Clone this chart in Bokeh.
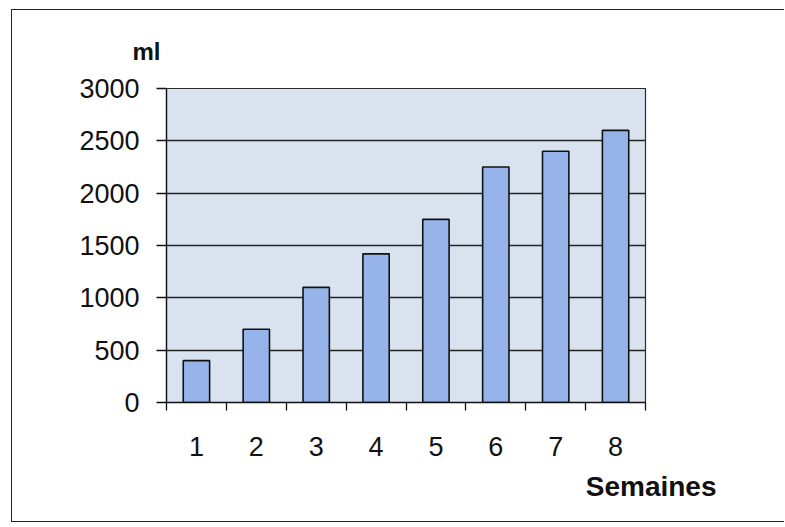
from bokeh.plotting import figure
from bokeh.models import Range1d, FixedTicker, Title
from bokeh.embed import file_html
from bokeh.resources import INLINE

# Weekly volume (ml)
weeks = [1, 2, 3, 4, 5, 6, 7, 8]
volumes_ml = [400, 700, 1100, 1420, 1750, 2250, 2400, 2600]
y_ticks = [0, 500, 1000, 1500, 2000, 2500, 3000]
week_boundaries = [0.5, 1.5, 2.5, 3.5, 4.5, 5.5, 6.5, 7.5, 8.5]

FONT = "Liberation Sans"

p = figure(
    width=773, height=513,
    x_range=Range1d(0.5, 8.5), y_range=Range1d(0, 3000),
    output_backend="svg", toolbar_location=None,
    min_border_left=154, min_border_right=140,
    min_border_top=78, min_border_bottom=121,
)
# thin frame around the whole chart (open on the right)
p.styles = {
    "margin-left": "11px", "margin-top": "9px",
    "border-left": "1.5px solid #222222",
    "border-top": "1.5px solid #222222",
    "border-bottom": "1.5px solid #222222",
}
p.background_fill_color = "#d9e3ef"
p.border_fill_color = "white"
p.outline_line_color = "#2b2b2b"
p.outline_line_width = 1.2

p.vbar(x=weeks, top=volumes_ml, width=0.44, bottom=0,
       fill_color="#96b4ea", line_color="#111111", line_width=1.6)

# y axis
p.yaxis.ticker = FixedTicker(ticks=y_ticks)
p.yaxis.major_tick_out = 10
p.yaxis.major_tick_in = 0
p.yaxis.minor_tick_out = 0
p.yaxis.major_label_standoff = 17
p.yaxis.major_label_text_font = FONT
p.yaxis.major_label_text_font_size = "27px"
p.yaxis.major_label_text_color = "#111111"
p.yaxis.axis_line_color = "#111111"
p.yaxis.axis_line_width = 1.3
p.yaxis.major_tick_line_color = "#111111"
p.yaxis.major_tick_line_width = 1.3

# x axis: labels at week centres, ticks on the boundaries
p.xaxis.ticker = FixedTicker(ticks=weeks, minor_ticks=week_boundaries)
p.xaxis.major_tick_out = 0
p.xaxis.major_tick_in = 0
p.xaxis.minor_tick_out = 8
p.xaxis.minor_tick_in = 0
p.xaxis.minor_tick_line_color = "#111111"
p.xaxis.minor_tick_line_width = 1.3
p.xaxis.major_label_standoff = 26
p.xaxis.major_label_text_font = FONT
p.xaxis.major_label_text_font_size = "27px"
p.xaxis.major_label_text_color = "#111111"
p.xaxis.axis_line_color = "#111111"
p.xaxis.axis_line_width = 1.3

p.xgrid.grid_line_color = None
p.ygrid.ticker = FixedTicker(ticks=y_ticks)
p.ygrid.grid_line_color = "#222222"
p.ygrid.grid_line_width = 1.3

# unit labels
p.add_layout(Title(text="ml", align="left", offset=-34, standoff=48,
                   text_font=FONT, text_font_style="bold",
                   text_font_size="24px", text_color="#111111"), "above")
p.add_layout(Title(text="Semaines", align="right", offset=-71, standoff=21,
                   text_font=FONT, text_font_style="bold",
                   text_font_size="28px", text_color="#111111"), "below")

open("out.html", "w").write(file_html(p, INLINE))
